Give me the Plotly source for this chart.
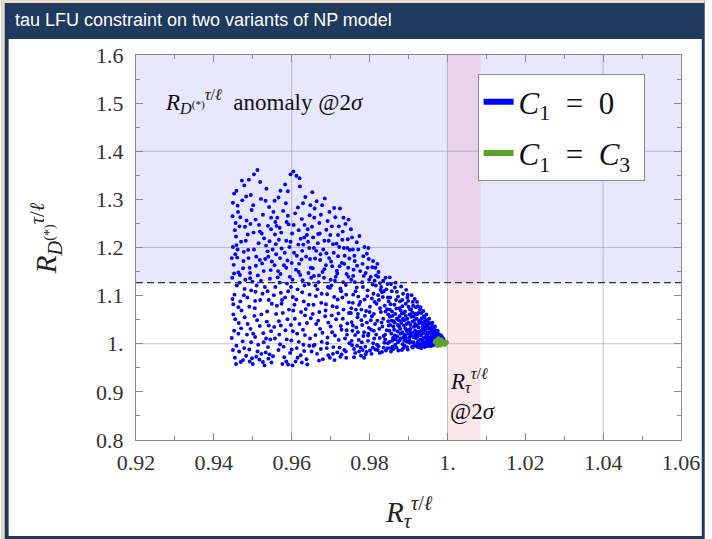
import plotly.graph_objects as go

# ---------------- data ----------------
# blue cloud: C1 = 0  (R_tau, R_D*)
c1_zero_points = [
    # x ~ 0.945-0.955
    (0.9452,1.312),(0.9461,1.287),(0.9448,1.265),(0.9473,1.298),(0.9490,1.341),(0.9503,1.352),(0.9512,1.361),
    (0.9478,1.329),(0.9466,1.244),(0.9457,1.223),(0.9484,1.256),(0.9497,1.278),(0.9521,1.301),(0.9535,1.322),
    (0.9542,1.284),(0.9449,1.201),(0.9455,1.186),(0.9470,1.212),(0.9488,1.195),(0.9502,1.231),(0.9516,1.247),
    (0.9529,1.219),(0.9547,1.238),(0.9451,1.164),(0.9463,1.148),(0.9476,1.172),(0.9492,1.158),(0.9509,1.181),
    (0.9524,1.167),(0.9538,1.192),(0.9546,1.153),(0.9447,1.137),(0.9459,1.121),(0.9481,1.133),(0.9499,1.129),
    (0.9513,1.142),(0.9531,1.118),(0.9544,1.135),(0.9453,1.102),(0.9468,1.088),(0.9486,1.096),(0.9505,1.074),
    (0.9519,1.091),(0.9537,1.067),(0.9549,1.083),(0.9450,1.061),(0.9464,1.043),(0.9479,1.055),(0.9494,1.031),
    (0.9511,1.049),(0.9527,1.022),(0.9541,1.038),(0.9446,1.012),(0.9458,0.996),(0.9474,1.005),(0.9491,0.988),
    (0.9506,1.014),(0.9522,0.979),(0.9539,0.993),(0.9454,0.971),(0.9469,0.962),(0.9483,0.975),(0.9500,0.958),
    (0.9517,0.967),(0.9533,0.982),(0.9548,0.961),(0.9462,1.274),(0.9495,1.309),(0.9526,1.268),(0.9456,1.251),
    (0.9487,1.227),(0.9515,1.209),(0.9543,1.213),(0.9460,1.179),(0.9477,1.191),(0.9508,1.162),(0.9532,1.176),
    (0.9467,1.143),(0.9496,1.111),(0.9525,1.104),(0.9471,1.069),(0.9504,1.058),(0.9536,1.046),(0.9452,1.027),
    (0.9485,1.019),(0.9514,0.998),(0.9545,1.009),(0.9465,0.984),(0.9498,0.970),(0.9530,0.955),(0.9480,1.243),
    (0.9518,1.233),(0.9458,1.205),(0.9540,1.181),(0.9493,1.147),(0.9528,1.151),(0.9450,1.082),(0.9510,1.121),
    (0.9449,1.293),(0.9458,1.318),(0.9472,1.339),(0.9483,1.306),(0.9501,1.288),(0.9519,1.336),(0.9533,1.297),
    (0.9547,1.262),(0.9454,1.236),(0.9468,1.263),(0.9482,1.214),(0.9494,1.249),(0.9507,1.258),(0.9523,1.229),
    (0.9539,1.245),(0.9446,1.178),(0.9461,1.196),(0.9475,1.157),(0.9489,1.178),(0.9503,1.196),(0.9518,1.174),
    (0.9534,1.204),(0.9549,1.171),(0.9452,1.146),(0.9466,1.127),(0.9479,1.114),(0.9493,1.136),(0.9507,1.108),
    (0.9521,1.131),(0.9538,1.109),(0.9448,1.093),(0.9463,1.076),(0.9477,1.101),(0.9491,1.077),(0.9506,1.089),
    (0.9522,1.061),(0.9541,1.091),(0.9455,1.051),(0.9470,1.032),(0.9487,1.041),(0.9501,1.021),(0.9518,1.037),
    (0.9534,1.011),(0.9547,1.026),(0.9449,0.987),(0.9463,1.021),(0.9478,0.991),(0.9496,1.003),(0.9512,0.984),
    (0.9528,1.003),(0.9543,0.978),(0.9457,0.958),(0.9475,0.966),(0.9492,0.963),(0.9509,0.973),(0.9526,0.962),
    (0.9540,0.969),
    # x ~ 0.955-0.965
    (0.9556,1.297),(0.9571,1.318),(0.9583,1.331),(0.9597,1.352),(0.9604,1.358),(0.9612,1.349),(0.9621,1.327),
    (0.9635,1.305),(0.9648,1.288),(0.9563,1.262),(0.9578,1.276),(0.9592,1.248),(0.9609,1.271),(0.9626,1.259),
    (0.9641,1.238),(0.9557,1.227),(0.9569,1.241),(0.9586,1.214),(0.9601,1.229),(0.9617,1.206),(0.9632,1.221),
    (0.9645,1.199),(0.9560,1.186),(0.9574,1.198),(0.9589,1.173),(0.9606,1.189),(0.9619,1.166),(0.9637,1.181),
    (0.9649,1.158),(0.9565,1.151),(0.9580,1.163),(0.9595,1.139),(0.9611,1.154),(0.9628,1.132),(0.9643,1.147),
    (0.9558,1.118),(0.9572,1.106),(0.9588,1.125),(0.9603,1.097),(0.9615,1.113),(0.9631,1.088),(0.9646,1.102),
    (0.9562,1.079),(0.9577,1.064),(0.9593,1.071),(0.9608,1.052),(0.9624,1.066),(0.9639,1.043),(0.9555,1.035),
    (0.9568,1.019),(0.9584,1.028),(0.9599,1.007),(0.9614,1.021),(0.9630,0.998),(0.9647,1.011),(0.9566,0.987),
    (0.9581,0.972),(0.9596,0.981),(0.9610,0.963),(0.9623,0.976),(0.9638,0.968),(0.9651,0.984),(0.9576,0.958),
    (0.9602,0.955),(0.9559,1.207),(0.9587,1.253),(0.9618,1.236),(0.9642,1.212),(0.9570,1.178),(0.9600,1.168),
    (0.9627,1.193),(0.9564,1.138),(0.9591,1.109),(0.9622,1.143),(0.9644,1.124),(0.9575,1.091),(0.9607,1.081),
    (0.9634,1.059),(0.9567,1.047),(0.9598,1.039),(0.9629,1.029),(0.9579,0.994),(0.9613,0.991),(0.9640,0.957),
    (0.9585,1.292),(0.9616,1.283),(0.9561,1.245),(0.9633,1.247),(0.9594,1.201),(0.9625,1.175),
    (0.9553,1.274),(0.9566,1.304),(0.9590,1.317),(0.9620,1.344),(0.9629,1.292),(0.9646,1.267),(0.9558,1.253),
    (0.9573,1.231),(0.9590,1.266),(0.9605,1.247),(0.9623,1.218),(0.9639,1.226),(0.9551,1.196),(0.9567,1.216),
    (0.9582,1.189),(0.9597,1.212),(0.9613,1.183),(0.9630,1.206),(0.9647,1.176),(0.9556,1.163),(0.9571,1.145),
    (0.9586,1.158),(0.9602,1.133),(0.9618,1.149),(0.9633,1.121),(0.9650,1.137),(0.9554,1.101),(0.9569,1.127),
    (0.9583,1.096),(0.9598,1.118),(0.9612,1.092),(0.9627,1.107),(0.9643,1.081),(0.9560,1.062),(0.9574,1.083),
    (0.9589,1.051),(0.9604,1.069),(0.9620,1.041),(0.9636,1.072),(0.9649,1.053),(0.9557,1.011),(0.9572,1.038),
    (0.9587,1.009),(0.9603,1.026),(0.9618,1.004),(0.9634,1.018),(0.9552,0.974),(0.9570,0.999),(0.9586,0.963),
    (0.9600,0.988),(0.9615,0.971),(0.9632,0.985),(0.9645,0.996),(0.9591,0.957),(0.9626,0.961),
    # x ~ 0.965-0.975
    (0.9653,1.315),(0.9664,1.296),(0.9678,1.288),(0.9685,1.302),(0.9697,1.274),(0.9712,1.263),(0.9724,1.281),
    (0.9738,1.249),(0.9746,1.258),(0.9658,1.262),(0.9671,1.251),(0.9689,1.237),(0.9703,1.244),(0.9719,1.226),
    (0.9731,1.233),(0.9744,1.217),(0.9655,1.221),(0.9667,1.209),(0.9681,1.196),(0.9695,1.214),(0.9708,1.189),
    (0.9722,1.201),(0.9736,1.183),(0.9749,1.195),(0.9660,1.177),(0.9674,1.186),(0.9688,1.163),(0.9701,1.171),
    (0.9716,1.152),(0.9729,1.168),(0.9741,1.145),(0.9657,1.141),(0.9669,1.128),(0.9683,1.137),(0.9698,1.116),
    (0.9711,1.131),(0.9727,1.109),(0.9739,1.122),(0.9662,1.099),(0.9676,1.085),(0.9691,1.103),(0.9705,1.078),
    (0.9718,1.092),(0.9733,1.071),(0.9747,1.086),(0.9654,1.062),(0.9668,1.048),(0.9686,1.057),(0.9700,1.036),
    (0.9714,1.051),(0.9728,1.029),(0.9743,1.042),(0.9661,1.018),(0.9677,1.004),(0.9692,1.013),(0.9707,0.993),
    (0.9721,1.008),(0.9735,0.987),(0.9748,1.001),(0.9665,0.979),(0.9680,0.968),(0.9694,0.976),(0.9710,0.966),
    (0.9725,0.973),(0.9740,0.971),(0.9672,1.229),(0.9706,1.207),(0.9734,1.199),(0.9663,1.193),(0.9696,1.178),
    (0.9723,1.161),(0.9679,1.149),(0.9713,1.139),(0.9745,1.158),(0.9666,1.113),(0.9702,1.121),(0.9730,1.096),
    (0.9687,1.069),(0.9720,1.063),(0.9742,1.019),(0.9673,1.031),(0.9704,1.024),(0.9737,1.011),(0.9690,0.991),
    (0.9717,0.982),(0.9656,0.996),
    (0.9659,1.281),(0.9675,1.268),(0.9692,1.255),(0.9709,1.282),(0.9721,1.244),(0.9733,1.262),(0.9652,1.243),
    (0.9668,1.228),(0.9684,1.214),(0.9699,1.226),(0.9715,1.208),(0.9730,1.216),(0.9743,1.199),(0.9657,1.199),
    (0.9673,1.174),(0.9689,1.188),(0.9704,1.161),(0.9719,1.182),(0.9735,1.166),(0.9748,1.177),(0.9654,1.157),
    (0.9670,1.142),(0.9684,1.155),(0.9700,1.133),(0.9717,1.146),(0.9732,1.128),(0.9746,1.139),(0.9661,1.121),
    (0.9677,1.104),(0.9693,1.118),(0.9709,1.097),(0.9725,1.115),(0.9740,1.102),(0.9656,1.081),(0.9671,1.066),
    (0.9688,1.082),(0.9703,1.059),(0.9716,1.076),(0.9731,1.052),(0.9747,1.064),(0.9663,1.041),(0.9679,1.023),
    (0.9694,1.044),(0.9711,1.017),(0.9726,1.037),(0.9741,1.028),(0.9659,0.998),(0.9675,0.989),(0.9691,1.001),
    (0.9706,0.979),(0.9723,0.992),(0.9739,0.984),(0.9670,0.965),(0.9698,0.971),(0.9728,0.978),
    # x ~ 0.975-0.985
    (0.9752,1.238),(0.9787,1.201),(0.9761,1.183),(0.9809,1.172),(0.9774,1.224),(0.9823,1.149),(0.9795,1.158),
    (0.9841,1.137),(0.9768,1.162),(0.9816,1.121),(0.9758,1.141),(0.9799,1.133),(0.9832,1.107),(0.9783,1.118),
    (0.9847,1.096),(0.9764,1.109),(0.9806,1.094),(0.9827,1.126),(0.9776,1.087),(0.9839,1.079),(0.9753,1.074),
    (0.9791,1.068),(0.9818,1.083),(0.9848,1.061),(0.9769,1.055),(0.9803,1.049),(0.9835,1.052),(0.9781,1.039),
    (0.9825,1.031),(0.9756,1.027),(0.9797,1.021),(0.9844,1.028),(0.9772,1.008),(0.9812,1.011),(0.9838,1.002),
    (0.9789,0.994),(0.9760,0.989),(0.9821,0.987),(0.9805,0.979),(0.9778,0.975),(0.9846,0.991),(0.9793,1.187),
    (0.9815,1.158),(0.9757,1.196),(0.9830,1.118),(0.9785,1.141),(0.9762,1.128),(0.9810,1.104),(0.9843,1.113),
    (0.9771,1.098),(0.9801,1.077),(0.9829,1.066),(0.9754,1.045),(0.9788,1.058),(0.9814,1.041),(0.9849,1.038),
    (0.9766,1.034),(0.9796,1.017),(0.9836,1.016),(0.9780,1.003),(0.9819,0.998),(0.9755,0.997),(0.9808,0.992),
    (0.9842,0.986),(0.9773,0.984),(0.9826,0.981),(0.9790,0.978),(0.9767,1.211),(0.9798,1.176),(0.9822,1.139),
    (0.9759,1.154),(0.9834,1.097),(0.9779,1.071),(0.9811,1.062),(0.9845,1.072),(0.9763,1.018),(0.9804,1.029),
    (0.9831,1.044),(0.9786,1.024),(0.9817,1.019),(0.9840,1.009),(0.9770,1.062),(0.9794,1.099),(0.9824,1.091),
    (0.9757,1.085),(0.9813,1.131),(0.9782,1.166),
    (0.9755,1.221),(0.9771,1.196),(0.9784,1.182),(0.9797,1.199),(0.9807,1.159),(0.9820,1.166),(0.9835,1.131),
    (0.9762,1.172),(0.9776,1.151),(0.9790,1.147),(0.9803,1.139),(0.9817,1.142),(0.9828,1.112),(0.9846,1.124),
    (0.9753,1.133),(0.9767,1.117),(0.9781,1.128),(0.9795,1.111),(0.9808,1.123),(0.9822,1.101),(0.9837,1.109),
    (0.9849,1.088),(0.9758,1.102),(0.9773,1.081),(0.9787,1.092),(0.9800,1.066),(0.9813,1.087),(0.9827,1.074),
    (0.9841,1.067),(0.9752,1.064),(0.9765,1.071),(0.9779,1.049),(0.9793,1.044),(0.9806,1.057),(0.9820,1.048),
    (0.9833,1.036),(0.9848,1.047),(0.9757,1.038),(0.9770,1.024),(0.9784,1.016),(0.9798,1.033),(0.9811,1.027),
    (0.9826,1.012),(0.9840,1.019),(0.9754,1.006),(0.9768,0.996),(0.9782,0.987),(0.9796,1.006),(0.9809,1.001),
    (0.9823,0.995),(0.9836,0.992),(0.9847,1.001),(0.9763,0.981),(0.9777,0.992),(0.9792,0.983),(0.9815,0.988),
    (0.9832,0.983),(0.9760,0.972),(0.9786,0.971),(0.9801,0.986),
    # x ~ 0.985-0.992
    (0.9852,1.138),(0.9867,1.127),(0.9881,1.119),(0.9894,1.112),(0.9908,1.101),(0.9916,1.093),(0.9857,1.109),
    (0.9873,1.098),(0.9886,1.104),(0.9899,1.089),(0.9912,1.079),(0.9854,1.082),(0.9869,1.073),(0.9878,1.088),
    (0.9891,1.067),(0.9904,1.071),(0.9918,1.062),(0.9859,1.058),(0.9875,1.049),(0.9883,1.063),(0.9897,1.052),
    (0.9910,1.046),(0.9853,1.039),(0.9864,1.044),(0.9879,1.031),(0.9888,1.038),(0.9901,1.029),(0.9914,1.035),
    (0.9856,1.021),(0.9871,1.015),(0.9884,1.024),(0.9893,1.011),(0.9906,1.018),(0.9919,1.012),(0.9851,1.004),
    (0.9866,0.998),(0.9877,1.007),(0.9890,0.996),(0.9903,1.002),(0.9915,0.997),(0.9861,0.989),(0.9874,0.986),
    (0.9887,0.991),(0.9898,0.988),(0.9911,0.992),(0.9855,0.984),(0.9870,1.052),(0.9882,1.047),(0.9895,1.041),
    (0.9907,1.056),(0.9917,1.027),(0.9858,1.067),(0.9876,1.036),(0.9889,1.019),(0.9902,1.008),(0.9913,1.003),
    (0.9863,1.029),(0.9880,1.011),(0.9892,1.032),(0.9905,1.039),(0.9860,1.012),(0.9872,1.026),(0.9885,0.999),
    (0.9896,1.004),(0.9909,0.994),(0.9868,1.091),(0.9900,1.077),(0.9865,1.117),(0.9897,1.096),(0.9853,1.096),
    (0.9884,1.078),(0.9910,1.065),(0.9862,1.047),(0.9893,1.058),(0.9915,1.049),(0.9877,1.057),(0.9906,1.024),
    (0.9859,0.994),(0.9889,1.006),(0.9918,1.019),
    (0.9855,1.124),(0.9870,1.108),(0.9884,1.091),(0.9898,1.102),(0.9911,1.087),(0.9852,1.071),(0.9866,1.062),
    (0.9880,1.069),(0.9893,1.083),(0.9907,1.072),(0.9919,1.076),(0.9857,1.048),(0.9872,1.039),(0.9886,1.052),
    (0.9900,1.044),(0.9913,1.057),(0.9851,1.027),(0.9865,1.017),(0.9879,1.021),(0.9892,1.016),(0.9905,1.031),
    (0.9917,1.041),(0.9858,1.006),(0.9873,1.003),(0.9887,1.013),(0.9899,1.021),(0.9912,1.014),(0.9854,0.991),
    (0.9869,0.992),(0.9883,0.987),(0.9896,0.993),(0.9908,1.003),(0.9919,0.996),(0.9864,1.081),(0.9890,1.049),
    (0.9903,1.061),(0.9876,1.074),(0.9861,1.036),(0.9895,1.027),(0.9914,1.023),(0.9881,1.043),(0.9867,1.009),
    (0.9902,1.013),(0.9852,1.056),(0.9888,1.064),
    # x ~ 0.992-0.9995 (dense tip)
    (0.9922,1.087),(0.9931,1.076),(0.9938,1.068),(0.9946,1.061),(0.9953,1.052),(0.9961,1.044),(0.9968,1.036),
    (0.9975,1.027),(0.9983,1.018),(0.9989,1.011),(0.9925,1.064),(0.9934,1.053),(0.9941,1.047),(0.9949,1.039),
    (0.9956,1.033),(0.9964,1.026),(0.9971,1.019),(0.9979,1.014),(0.9986,1.008),(0.9928,1.043),(0.9936,1.036),
    (0.9944,1.029),(0.9951,1.023),(0.9959,1.018),(0.9966,1.012),(0.9973,1.008),(0.9981,1.005),(0.9923,1.025),
    (0.9932,1.017),(0.9939,1.012),(0.9947,1.007),(0.9955,1.004),(0.9962,1.001),(0.9970,0.999),(0.9926,1.006),
    (0.9935,1.002),(0.9943,0.998),(0.9950,0.996),(0.9958,0.995),(0.9924,0.993),(0.9933,0.991),(0.9942,0.993),
    (0.9929,1.071),(0.9940,1.057),(0.9952,1.044),(0.9963,1.031),(0.9921,1.052),(0.9937,1.031),(0.9948,1.019),
    (0.9957,1.011),(0.9967,1.005),(0.9977,1.002),(0.9930,1.009),(0.9945,1.003),(0.9960,1.007),(0.9927,0.999),
    (0.9954,1.001),(0.9965,1.003),(0.9974,1.004),(0.9984,1.001),(0.9921,1.038),(0.9934,1.027),(0.9949,1.021),
    (0.9969,1.011),(0.9978,1.007),(0.9944,1.041),(0.9958,1.027),(0.9923,1.015),(0.9938,1.004),(0.9951,0.998),
    (0.9924,1.078),(0.9933,1.064),(0.9941,1.054),(0.9947,1.049),(0.9955,1.042),(0.9962,1.037),(0.9969,1.028),
    (0.9976,1.021),(0.9982,1.013),(0.9987,1.004),(0.9991,1.007),(0.9922,1.061),(0.9930,1.048),(0.9937,1.041),
    (0.9943,1.034),(0.9952,1.031),(0.9960,1.022),(0.9967,1.019),(0.9974,1.015),(0.9980,1.011),(0.9926,1.034),
    (0.9931,1.026),(0.9939,1.022),(0.9946,1.016),(0.9953,1.013),(0.9961,1.015),(0.9968,1.009),(0.9975,1.012),
    (0.9921,1.019),(0.9929,1.021),(0.9936,1.009),(0.9942,1.013),(0.9950,1.009),(0.9957,1.006),(0.9964,1.009),
    (0.9971,1.004),(0.9924,1.003),(0.9932,0.997),(0.9940,1.001),(0.9948,1.001),(0.9956,0.999),(0.9963,0.997),
    (0.9922,0.998),(0.9928,0.992),(0.9936,0.995),(0.9945,0.995),(0.9953,0.996),(0.9927,1.047),(0.9935,1.044),
    (0.9942,1.027),(0.9950,1.034),(0.9959,1.035),(0.9966,1.024),(0.9972,1.024),(0.9979,1.019),(0.9985,1.015),
]

# green cluster: C1 = C3
c1_c3_points = [
    (0.9968,1.004),(0.9975,1.008),(0.9981,1.003),(0.9986,1.006),(0.9991,1.002),(0.9994,1.004),(0.9972,1.001),
    (0.9979,0.999),(0.9984,1.009),(0.9989,1.000),(0.9977,1.011),(0.9996,1.001),(0.9970,1.007),(0.9988,1.004),
    (0.9982,0.997),(0.9993,0.998),(0.9974,0.996),(0.9998,1.003),
]

series_names = ["<i>C</i><sub>1</sub>&nbsp;&nbsp;=&nbsp;&nbsp;0",
                "<i>C</i><sub>1</sub>&nbsp;&nbsp;=&nbsp;&nbsp;<i>C</i><sub>3</sub>&nbsp;"]
series_colors = ["#0000ff", "#5ba22e"]

x_ticks = [0.92, 0.94, 0.96, 0.98, 1.00, 1.02, 1.04, 1.06]
x_tick_labels = ["0.92", "0.94", "0.96", "0.98", "1.", "1.02", "1.04", "1.06"]
y_ticks = [0.8, 0.9, 1.0, 1.1, 1.2, 1.3, 1.4, 1.5, 1.6]
y_tick_labels = ["0.8", "0.9", "1.", "1.1", "1.2", "1.3", "1.4", "1.5", "1.6"]
x_grid = [0.96, 1.00, 1.04]
y_grid = [1.0, 1.2, 1.4]

rd_anomaly_min = 1.127          # R_D(*) 2 sigma lower edge
rtau_band = (1.0, 1.0085)       # R_tau 2 sigma band
x_range = [0.92, 1.06]
y_range = [0.8, 1.6]

# ---------------- layout helpers (pixel -> paper) ----------------
W, H = 712, 539
L, R, T, B = 136, 24, 55, 99
PW, PH = W - L - R, H - T - B


def px(p):
    return (p - L) / PW


def py(p):
    return (H - B - p) / PH


fig = go.Figure()

bx = [p[0] for p in c1_zero_points]
by = [p[1] for p in c1_zero_points]
gx = [p[0] for p in c1_c3_points]
gy = [p[1] for p in c1_c3_points]

fig.add_trace(go.Scatter(x=bx, y=by, mode="markers",
                         marker=dict(color=series_colors[0], size=3.9, line=dict(width=0)),
                         showlegend=False, hoverinfo="skip"))
fig.add_trace(go.Scatter(x=gx, y=gy, mode="markers",
                         marker=dict(color=series_colors[1], size=4.5, line=dict(width=0)),
                         showlegend=False, hoverinfo="skip"))
for i, (nm, col) in enumerate(zip(series_names, series_colors)):
    fig.add_trace(go.Scatter(x=[None], y=[None], mode="lines", name=nm,
                             line=dict(color=col, width=6), legendgroup=f"g{i}"))

shapes = []
# frame of the slide
shapes.append(dict(type="rect", xref="paper", yref="paper", x0=px(0), x1=px(W), y0=py(H), y1=py(0),
                   fillcolor="#1f3a5f", line=dict(width=0), layer="below"))
shapes.append(dict(type="rect", xref="paper", yref="paper", x0=px(0), x1=px(3), y0=py(H), y1=py(0),
                   fillcolor="#ecdcca", line=dict(width=0), layer="below"))
shapes.append(dict(type="rect", xref="paper", yref="paper", x0=px(0), x1=px(W), y0=py(3), y1=py(0),
                   fillcolor="#ecdcca", line=dict(width=0), layer="below"))
shapes.append(dict(type="rect", xref="paper", yref="paper", x0=px(7), x1=px(709), y0=py(536), y1=py(39),
                   fillcolor="white", line=dict(width=0), layer="below"))
# shaded regions
shapes.append(dict(type="rect", xref="x", yref="y", x0=x_range[0], x1=x_range[1], y0=rd_anomaly_min,
                   y1=y_range[1], fillcolor="rgba(60,60,255,0.12)", line=dict(width=0), layer="below"))
shapes.append(dict(type="rect", xref="x", yref="y", x0=rtau_band[0], x1=rtau_band[1], y0=y_range[0],
                   y1=y_range[1], fillcolor="rgba(240,60,80,0.12)", line=dict(width=0), layer="below"))
# grid
for gxv in x_grid:
    shapes.append(dict(type="line", xref="x", yref="y", x0=gxv, x1=gxv, y0=y_range[0], y1=y_range[1],
                       line=dict(color="rgba(150,150,150,0.55)", width=1), layer="below"))
for gyv in y_grid:
    shapes.append(dict(type="line", xref="x", yref="y", x0=x_range[0], x1=x_range[1], y0=gyv, y1=gyv,
                       line=dict(color="rgba(150,150,150,0.55)", width=1), layer="below"))
# dashed bound
shapes.append(dict(type="line", xref="x", yref="y", x0=x_range[0], x1=x_range[1], y0=rd_anomaly_min,
                   y1=rd_anomaly_min, line=dict(color="#333333", width=1.3, dash="7px,4px"), layer="above"))

serif = "Liberation Serif"
annotations = [
    dict(text="tau LFU constraint on two variants of NP model", xref="paper", yref="paper",
         x=px(11), y=py(20), xanchor="left", yanchor="middle", showarrow=False,
         font=dict(family="Liberation Sans", size=18, color="white")),
    dict(text="<i>R</i><sub><i>D</i><sup>(*)</sup></sub><sup><i>τ</i>/<i>ℓ</i></sup>  anomaly @2<i>σ</i>",
         xref="paper", yref="paper", x=px(163), y=py(101), xanchor="left", yanchor="middle",
         showarrow=False, font=dict(family=serif, size=23, color="#111")),
    dict(text="<i>R</i><sub><i>τ</i></sub><sup><i>τ</i>/<i>ℓ</i></sup>", xref="paper", yref="paper",
         x=px(452), y=py(380), xanchor="left", yanchor="middle", showarrow=False,
         font=dict(family=serif, size=23, color="#111")),
    dict(text="@2<i>σ</i>", xref="paper", yref="paper", x=px(452), y=py(411), xanchor="left",
         yanchor="middle", showarrow=False, font=dict(family=serif, size=23, color="#111")),
    dict(text="<i>R</i><sub><i>τ</i></sub><sup><i>τ</i>/<i>ℓ</i></sup>", xref="paper", yref="paper",
         x=px(412), y=py(512), xanchor="center", yanchor="middle", showarrow=False,
         font=dict(family=serif, size=29, color="#222")),
    dict(text="<i>R</i><sub><i>D</i><sup>(*)</sup></sub><sup><i>τ</i>/<i>ℓ</i></sup>", xref="paper",
         yref="paper", x=px(45), y=py(238), xanchor="center", yanchor="middle", textangle=-90,
         showarrow=False, font=dict(family=serif, size=29, color="#222")),
]

axis_common = dict(ticks="inside", ticklen=7, tickwidth=1, tickcolor="#8a8a8a", showline=True,
                   linecolor="#8a8a8a", linewidth=1, mirror="allticks", showgrid=False, zeroline=False,
                   tickfont=dict(family=serif, size=22, color="#333"))

fig.update_layout(
    width=W, height=H, margin=dict(l=L, r=R, t=T, b=B, pad=0),
    paper_bgcolor="white", plot_bgcolor="rgba(0,0,0,0)",
    xaxis=dict(range=x_range, tickmode="array", tickvals=x_ticks, ticktext=x_tick_labels,
               ticklabelstandoff=3,
               minor=dict(tickmode="linear", tick0=0.92, dtick=0.01, ticks="inside", ticklen=4,
                          tickcolor="#8a8a8a", showgrid=False), **axis_common),
    yaxis=dict(range=y_range, tickmode="array", tickvals=y_ticks, ticktext=y_tick_labels,
               ticklabelstandoff=7,
               minor=dict(tickmode="linear", tick0=0.8, dtick=0.05, ticks="inside", ticklen=4,
                          tickcolor="#8a8a8a", showgrid=False), **axis_common),
    shapes=shapes, annotations=annotations,
    showlegend=True,
    legend=dict(x=px(482), y=py(74), xanchor="left", yanchor="top", bgcolor="white",
                bordercolor="#8a8a8a", borderwidth=1, font=dict(family=serif, size=31, color="#111"),
                tracegroupgap=8, traceorder="grouped", itemwidth=30),
    hovermode=False,
)

fig.write_html("out.html")
